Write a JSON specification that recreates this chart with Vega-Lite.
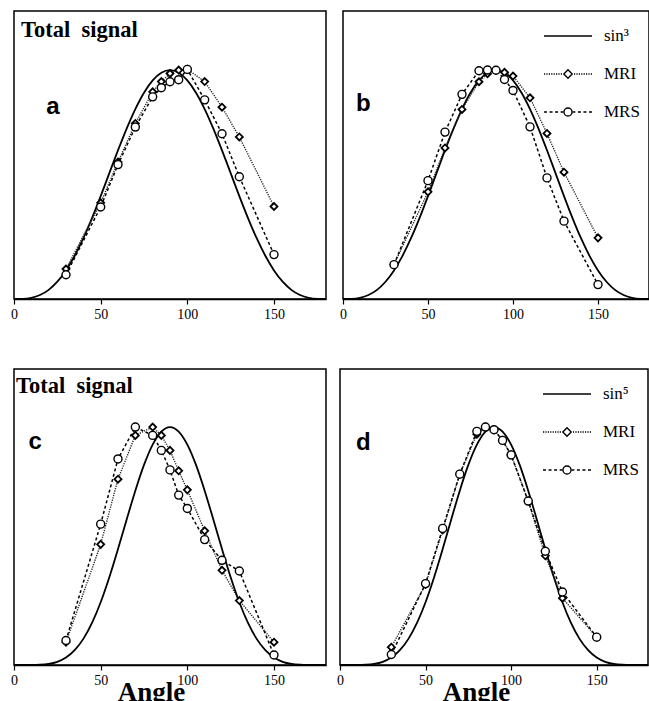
{
  "$schema": "https://vega.github.io/schema/vega-lite/v6.json",
  "padding": {"left": 9, "top": 10, "right": 0, "bottom": 0},
  "background": "white",
  "config": {
    "view": {"stroke": "black", "strokeWidth": 1.5},
    "axis": {"labelFont": "Liberation Serif", "labelFontSize": 14, "labelColor": "black", "tickColor": "black", "domainColor": "black", "tickSize": 5, "tickWidth": 1.2, "domainWidth": 1.5, "grid": false, "labelPadding": 3, "labelFlush": false, "titleColor": "black"},
    "legend": {"labelFont": "Liberation Serif", "labelFontSize": 17, "labelColor": "black"},
    "text": {"font": "Liberation Sans", "fontWeight": "bold", "fontSize": 24, "color": "black", "align": "left", "baseline": "alphabetic"}
  },
  "datasets": {
    "one": [{}],
    "curve": [
      {"p":3,"angle":0,"signal":0},{"p":3,"angle":5,"signal":0.00066},{"p":3,"angle":10,"signal":0.00524},{"p":3,"angle":15,"signal":0.01734},{"p":3,"angle":20,"signal":0.04001},{"p":3,"angle":25,"signal":0.07548},{"p":3,"angle":30,"signal":0.125},{"p":3,"angle":35,"signal":0.1887},{"p":3,"angle":40,"signal":0.26559},{"p":3,"angle":45,"signal":0.35355},{"p":3,"angle":50,"signal":0.44953},{"p":3,"angle":55,"signal":0.54966},{"p":3,"angle":60,"signal":0.64952},{"p":3,"angle":65,"signal":0.74444},{"p":3,"angle":70,"signal":0.82976},{"p":3,"angle":75,"signal":0.90123},{"p":3,"angle":80,"signal":0.95512},{"p":3,"angle":85,"signal":0.98861},{"p":3,"angle":90,"signal":1},{"p":3,"angle":95,"signal":0.98861},{"p":3,"angle":100,"signal":0.95512},{"p":3,"angle":105,"signal":0.90123},{"p":3,"angle":110,"signal":0.82976},{"p":3,"angle":115,"signal":0.74444},{"p":3,"angle":120,"signal":0.64952},{"p":3,"angle":125,"signal":0.54966},{"p":3,"angle":130,"signal":0.44953},{"p":3,"angle":135,"signal":0.35355},{"p":3,"angle":140,"signal":0.26559},{"p":3,"angle":145,"signal":0.1887},{"p":3,"angle":150,"signal":0.125},{"p":3,"angle":155,"signal":0.07548},{"p":3,"angle":160,"signal":0.04001},{"p":3,"angle":165,"signal":0.01734},{"p":3,"angle":170,"signal":0.00524},{"p":3,"angle":175,"signal":0.00066},{"p":3,"angle":180,"signal":0},
      {"p":5,"angle":0,"signal":0},{"p":5,"angle":5,"signal":0.00001},{"p":5,"angle":10,"signal":0.00016},{"p":5,"angle":15,"signal":0.00116},{"p":5,"angle":20,"signal":0.00468},{"p":5,"angle":25,"signal":0.01348},{"p":5,"angle":30,"signal":0.03125},{"p":5,"angle":35,"signal":0.06208},{"p":5,"angle":40,"signal":0.10974},{"p":5,"angle":45,"signal":0.17678},{"p":5,"angle":50,"signal":0.26379},{"p":5,"angle":55,"signal":0.36882},{"p":5,"angle":60,"signal":0.48714},{"p":5,"angle":65,"signal":0.61148},{"p":5,"angle":70,"signal":0.73269},{"p":5,"angle":75,"signal":0.84087},{"p":5,"angle":80,"signal":0.92632},{"p":5,"angle":85,"signal":0.9811},{"p":5,"angle":90,"signal":1},{"p":5,"angle":95,"signal":0.9811},{"p":5,"angle":100,"signal":0.92632},{"p":5,"angle":105,"signal":0.84087},{"p":5,"angle":110,"signal":0.73269},{"p":5,"angle":115,"signal":0.61148},{"p":5,"angle":120,"signal":0.48714},{"p":5,"angle":125,"signal":0.36882},{"p":5,"angle":130,"signal":0.26379},{"p":5,"angle":135,"signal":0.17678},{"p":5,"angle":140,"signal":0.10974},{"p":5,"angle":145,"signal":0.06208},{"p":5,"angle":150,"signal":0.03125},{"p":5,"angle":155,"signal":0.01348},{"p":5,"angle":160,"signal":0.00468},{"p":5,"angle":165,"signal":0.00116},{"p":5,"angle":170,"signal":0.00016},{"p":5,"angle":175,"signal":0.00001},{"p":5,"angle":180,"signal":0}
    ],
    "pts": [
      {"panel":"a","series":"MRI","angle":30,"signal":0.131},{"panel":"a","series":"MRI","angle":50,"signal":0.42},{"panel":"a","series":"MRI","angle":60,"signal":0.598},{"panel":"a","series":"MRI","angle":70,"signal":0.767},{"panel":"a","series":"MRI","angle":80,"signal":0.905},{"panel":"a","series":"MRI","angle":85,"signal":0.95},{"panel":"a","series":"MRI","angle":90,"signal":0.985},{"panel":"a","series":"MRI","angle":95,"signal":1.0},{"panel":"a","series":"MRI","angle":100,"signal":1.003},{"panel":"a","series":"MRI","angle":110,"signal":0.95},{"panel":"a","series":"MRI","angle":120,"signal":0.838},{"panel":"a","series":"MRI","angle":130,"signal":0.708},{"panel":"a","series":"MRI","angle":150,"signal":0.404},
      {"panel":"a","series":"MRS","angle":30,"signal":0.106},{"panel":"a","series":"MRS","angle":50,"signal":0.402},{"panel":"a","series":"MRS","angle":60,"signal":0.587},{"panel":"a","series":"MRS","angle":70,"signal":0.751},{"panel":"a","series":"MRS","angle":80,"signal":0.883},{"panel":"a","series":"MRS","angle":85,"signal":0.923},{"panel":"a","series":"MRS","angle":90,"signal":0.949},{"panel":"a","series":"MRS","angle":95,"signal":0.958},{"panel":"a","series":"MRS","angle":100,"signal":1.003},{"panel":"a","series":"MRS","angle":110,"signal":0.87},{"panel":"a","series":"MRS","angle":120,"signal":0.722},{"panel":"a","series":"MRS","angle":130,"signal":0.534},{"panel":"a","series":"MRS","angle":150,"signal":0.194},
      {"panel":"b","series":"MRI","angle":30,"signal":0.15},{"panel":"b","series":"MRI","angle":50,"signal":0.468},{"panel":"b","series":"MRI","angle":60,"signal":0.66},{"panel":"b","series":"MRI","angle":70,"signal":0.828},{"panel":"b","series":"MRI","angle":80,"signal":0.949},{"panel":"b","series":"MRI","angle":85,"signal":0.984},{"panel":"b","series":"MRI","angle":90,"signal":0.999},{"panel":"b","series":"MRI","angle":95,"signal":0.99},{"panel":"b","series":"MRI","angle":100,"signal":0.974},{"panel":"b","series":"MRI","angle":110,"signal":0.879},{"panel":"b","series":"MRI","angle":120,"signal":0.723},{"panel":"b","series":"MRI","angle":130,"signal":0.554},{"panel":"b","series":"MRI","angle":150,"signal":0.267},
      {"panel":"b","series":"MRS","angle":30,"signal":0.15},{"panel":"b","series":"MRS","angle":50,"signal":0.517},{"panel":"b","series":"MRS","angle":60,"signal":0.729},{"panel":"b","series":"MRS","angle":70,"signal":0.894},{"panel":"b","series":"MRS","angle":80,"signal":0.997},{"panel":"b","series":"MRS","angle":85,"signal":1.0},{"panel":"b","series":"MRS","angle":90,"signal":0.999},{"panel":"b","series":"MRS","angle":95,"signal":0.959},{"panel":"b","series":"MRS","angle":100,"signal":0.911},{"panel":"b","series":"MRS","angle":110,"signal":0.752},{"panel":"b","series":"MRS","angle":120,"signal":0.529},{"panel":"b","series":"MRS","angle":130,"signal":0.34},{"panel":"b","series":"MRS","angle":150,"signal":0.063},
      {"panel":"c","series":"MRI","angle":30,"signal":0.096},{"panel":"c","series":"MRI","angle":50,"signal":0.507},{"panel":"c","series":"MRI","angle":60,"signal":0.781},{"panel":"c","series":"MRI","angle":70,"signal":0.965},{"panel":"c","series":"MRI","angle":80,"signal":1.0},{"panel":"c","series":"MRI","angle":85,"signal":0.965},{"panel":"c","series":"MRI","angle":90,"signal":0.902},{"panel":"c","series":"MRI","angle":95,"signal":0.816},{"panel":"c","series":"MRI","angle":100,"signal":0.736},{"panel":"c","series":"MRI","angle":110,"signal":0.564},{"panel":"c","series":"MRI","angle":120,"signal":0.398},{"panel":"c","series":"MRI","angle":130,"signal":0.271},{"panel":"c","series":"MRI","angle":150,"signal":0.096},
      {"panel":"c","series":"MRS","angle":30,"signal":0.103},{"panel":"c","series":"MRS","angle":50,"signal":0.592},{"panel":"c","series":"MRS","angle":60,"signal":0.866},{"panel":"c","series":"MRS","angle":70,"signal":1.0},{"panel":"c","series":"MRS","angle":80,"signal":0.965},{"panel":"c","series":"MRS","angle":85,"signal":0.902},{"panel":"c","series":"MRS","angle":90,"signal":0.82},{"panel":"c","series":"MRS","angle":95,"signal":0.714},{"panel":"c","series":"MRS","angle":100,"signal":0.658},{"panel":"c","series":"MRS","angle":110,"signal":0.527},{"panel":"c","series":"MRS","angle":120,"signal":0.44},{"panel":"c","series":"MRS","angle":130,"signal":0.395},{"panel":"c","series":"MRS","angle":150,"signal":0.042},
      {"panel":"d","series":"MRI","angle":30,"signal":0.075},{"panel":"d","series":"MRI","angle":50,"signal":0.338},{"panel":"d","series":"MRI","angle":60,"signal":0.567},{"panel":"d","series":"MRI","angle":70,"signal":0.802},{"panel":"d","series":"MRI","angle":80,"signal":0.97},{"panel":"d","series":"MRI","angle":85,"signal":1.0},{"panel":"d","series":"MRI","angle":90,"signal":0.989},{"panel":"d","series":"MRI","angle":95,"signal":0.944},{"panel":"d","series":"MRI","angle":100,"signal":0.883},{"panel":"d","series":"MRI","angle":110,"signal":0.689},{"panel":"d","series":"MRI","angle":120,"signal":0.459},{"panel":"d","series":"MRI","angle":130,"signal":0.281},{"panel":"d","series":"MRI","angle":150,"signal":0.117},
      {"panel":"d","series":"MRS","angle":30,"signal":0.044},{"panel":"d","series":"MRS","angle":50,"signal":0.342},{"panel":"d","series":"MRS","angle":60,"signal":0.574},{"panel":"d","series":"MRS","angle":70,"signal":0.802},{"panel":"d","series":"MRS","angle":80,"signal":0.982},{"panel":"d","series":"MRS","angle":85,"signal":1.0},{"panel":"d","series":"MRS","angle":90,"signal":0.989},{"panel":"d","series":"MRS","angle":95,"signal":0.944},{"panel":"d","series":"MRS","angle":100,"signal":0.883},{"panel":"d","series":"MRS","angle":110,"signal":0.689},{"panel":"d","series":"MRS","angle":120,"signal":0.478},{"panel":"d","series":"MRS","angle":130,"signal":0.307},{"panel":"d","series":"MRS","angle":150,"signal":0.117}
    ]
  },
  "resolve": {"scale": {"shape": "independent"}, "legend": {"shape": "independent"}},
  "spacing": 46,
  "vconcat": [
    {
      "spacing": 7,
      "resolve": {"scale": {"shape": "independent"}, "legend": {"shape": "independent"}},
      "hconcat": [
        {
          "width": 312, "height": 288,
          "title": {"text": "Total\u00a0\u00a0signal", "anchor": "start", "frame": "group", "font": "Liberation Serif", "fontWeight": "bold", "fontSize": 22.5, "color": "black", "offset": -30, "dx": 7},
          "layer": [
            {"data": {"name": "curve"}, "transform": [{"filter": "datum.p == 3"}], "mark": {"type": "line", "color": "black", "strokeWidth": 1.8, "interpolate": "monotone"},
             "encoding": {"x": {"field": "angle", "type": "quantitative", "scale": {"domain": [0, 180], "nice": false}, "axis": {"values": [0, 50, 100, 150], "title": null}}, "y": {"field": "signal", "type": "quantitative", "scale": {"domain": [0, 1.258], "nice": false}, "axis": null}}},
            {"data": {"name": "pts"}, "transform": [{"filter": "datum.panel == 'a' && datum.series == 'MRI'"}], "mark": {"type": "line", "color": "#222", "strokeWidth": 1.4, "strokeDash": [1.2, 1.2]}, "encoding": {"x": {"field": "angle", "type": "quantitative"}, "y": {"field": "signal", "type": "quantitative"}}},
            {"data": {"name": "pts"}, "transform": [{"filter": "datum.panel == 'a' && datum.series == 'MRS'"}], "mark": {"type": "line", "color": "black", "strokeWidth": 1.5, "strokeDash": [3, 2.5]}, "encoding": {"x": {"field": "angle", "type": "quantitative"}, "y": {"field": "signal", "type": "quantitative"}}},
            {"data": {"name": "pts"}, "transform": [{"filter": "datum.panel == 'a' && datum.series == 'MRI'"}], "mark": {"type": "point", "shape": "diamond", "size": 49, "filled": true, "fill": "white", "stroke": "black", "strokeWidth": 1.8, "opacity": 1}, "encoding": {"x": {"field": "angle", "type": "quantitative"}, "y": {"field": "signal", "type": "quantitative"}}},
            {"data": {"name": "pts"}, "transform": [{"filter": "datum.panel == 'a' && datum.series == 'MRS'"}], "mark": {"type": "point", "shape": "circle", "size": 64, "filled": true, "fill": "white", "stroke": "black", "strokeWidth": 1.4, "opacity": 1}, "encoding": {"x": {"field": "angle", "type": "quantitative"}, "y": {"field": "signal", "type": "quantitative"}}},
            {"data": {"name": "one"}, "mark": {"type": "text"}, "encoding": {"x": {"datum": 18.6}, "y": {"datum": 0.808}, "text": {"value": "a"}}}
          ]
        },
        {
          "width": 306, "height": 288,
          "layer": [
            {"data": {"name": "curve"}, "transform": [{"filter": "datum.p == 3"}], "mark": {"type": "line", "color": "black", "strokeWidth": 1.8, "interpolate": "monotone"},
             "encoding": {"x": {"field": "angle", "type": "quantitative", "scale": {"domain": [0, 180], "nice": false}, "axis": {"values": [0, 50, 100, 150], "title": null}}, "y": {"field": "signal", "type": "quantitative", "scale": {"domain": [0, 1.258], "nice": false}, "axis": null}}},
            {"data": {"name": "pts"}, "transform": [{"filter": "datum.panel == 'b' && datum.series == 'MRI'"}], "mark": {"type": "line", "color": "#222", "strokeWidth": 1.4, "strokeDash": [1.2, 1.2]}, "encoding": {"x": {"field": "angle", "type": "quantitative"}, "y": {"field": "signal", "type": "quantitative"}}},
            {"data": {"name": "pts"}, "transform": [{"filter": "datum.panel == 'b' && datum.series == 'MRS'"}], "mark": {"type": "line", "color": "black", "strokeWidth": 1.5, "strokeDash": [3, 2.5]}, "encoding": {"x": {"field": "angle", "type": "quantitative"}, "y": {"field": "signal", "type": "quantitative"}}},
            {"data": {"name": "pts"}, "transform": [{"filter": "datum.panel == 'b' && datum.series == 'MRI'"}], "mark": {"type": "point", "shape": "diamond", "size": 49, "filled": true, "fill": "white", "stroke": "black", "strokeWidth": 1.8, "opacity": 1}, "encoding": {"x": {"field": "angle", "type": "quantitative"}, "y": {"field": "signal", "type": "quantitative"}}},
            {"data": {"name": "pts"}, "transform": [{"filter": "datum.panel == 'b' && datum.series == 'MRS'"}], "mark": {"type": "point", "shape": "circle", "size": 64, "filled": true, "fill": "white", "stroke": "black", "strokeWidth": 1.4, "opacity": 1}, "encoding": {"x": {"field": "angle", "type": "quantitative"}, "y": {"field": "signal", "type": "quantitative"}}},
            {"data": {"name": "one"}, "mark": {"type": "text"}, "encoding": {"x": {"datum": 7.6}, "y": {"datum": 0.821}, "text": {"value": "b"}}},
            {"data": {"name": "pts"}, "transform": [{"filter": "datum.panel == 'b'"}], "mark": {"type": "point", "opacity": 0, "color": "black", "filled": false, "size": 900},
             "encoding": {"x": {"field": "angle", "type": "quantitative"}, "y": {"field": "signal", "type": "quantitative"},
              "shape": {"field": "series", "type": "nominal", "scale": {"domain": ["sin³", "MRI", "MRS"], "range": ["M-1.6,0L1.6,0", "M-1.6,0h0.08M-1.44,0h0.08M-1.28,0h0.08M-1.12,0h0.08M-0.96,0h0.08M-0.8,0h0.08M-0.64,0h0.08M-0.48,0h0.08M0,-0.28L0.28,0L0,0.28L-0.28,0ZM0.4,0h0.08M0.56,0h0.08M0.72,0h0.08M0.88,0h0.08M1.04,0h0.08M1.2,0h0.08M1.36,0h0.08M1.52,0h0.08", "M-1.6,0h0.2M-1.23,0h0.2M-0.86,0h0.2M-0.49,0h0.17M-0.27,0A0.27,0.27,0,1,0,0.27,0A0.27,0.27,0,1,0,-0.27,0M0.32,0h0.17M0.66,0h0.2M1.03,0h0.2M1.4,0h0.2"]},
              "legend": {"title": null, "orient": "top-right", "offset": 9, "padding": 0, "symbolSize": 900, "symbolStrokeWidth": 1.4, "symbolStrokeColor": "black", "symbolFillColor": "white", "symbolOpacity": 1, "labelOffset": 20, "rowPadding": 14}}}}
          ]
        }
      ]
    },
    {
      "spacing": 4,
      "resolve": {"scale": {"shape": "independent"}, "legend": {"shape": "independent"}},
      "hconcat": [
        {
          "width": 312, "height": 296,
          "title": {"text": "Total\u00a0\u00a0signal", "anchor": "start", "frame": "group", "font": "Liberation Serif", "fontWeight": "bold", "fontSize": 22.5, "color": "black", "offset": -28, "dx": 2},
          "layer": [
            {"data": {"name": "curve"}, "transform": [{"filter": "datum.p == 5"}], "mark": {"type": "line", "color": "black", "strokeWidth": 1.8, "interpolate": "monotone"},
             "encoding": {"x": {"field": "angle", "type": "quantitative", "scale": {"domain": [0, 180], "nice": false}, "axis": {"values": [0, 50, 100, 150], "title": "Angle", "titleFont": "Liberation Serif", "titleFontWeight": "bold", "titleFontSize": 27, "titleX": 137, "titleY": 35, "titleBaseline": "alphabetic", "titleAlign": "center"}}, "y": {"field": "signal", "type": "quantitative", "scale": {"domain": [0, 1.244], "nice": false}, "axis": null}}},
            {"data": {"name": "pts"}, "transform": [{"filter": "datum.panel == 'c' && datum.series == 'MRI'"}], "mark": {"type": "line", "color": "#222", "strokeWidth": 1.4, "strokeDash": [1.2, 1.2]}, "encoding": {"x": {"field": "angle", "type": "quantitative"}, "y": {"field": "signal", "type": "quantitative"}}},
            {"data": {"name": "pts"}, "transform": [{"filter": "datum.panel == 'c' && datum.series == 'MRS'"}], "mark": {"type": "line", "color": "black", "strokeWidth": 1.5, "strokeDash": [3, 2.5]}, "encoding": {"x": {"field": "angle", "type": "quantitative"}, "y": {"field": "signal", "type": "quantitative"}}},
            {"data": {"name": "pts"}, "transform": [{"filter": "datum.panel == 'c' && datum.series == 'MRI'"}], "mark": {"type": "point", "shape": "diamond", "size": 49, "filled": true, "fill": "white", "stroke": "black", "strokeWidth": 1.8, "opacity": 1}, "encoding": {"x": {"field": "angle", "type": "quantitative"}, "y": {"field": "signal", "type": "quantitative"}}},
            {"data": {"name": "pts"}, "transform": [{"filter": "datum.panel == 'c' && datum.series == 'MRS'"}], "mark": {"type": "point", "shape": "circle", "size": 64, "filled": true, "fill": "white", "stroke": "black", "strokeWidth": 1.4, "opacity": 1}, "encoding": {"x": {"field": "angle", "type": "quantitative"}, "y": {"field": "signal", "type": "quantitative"}}},
            {"data": {"name": "one"}, "mark": {"type": "text"}, "encoding": {"x": {"datum": 8.3}, "y": {"datum": 0.908}, "text": {"value": "c"}}}
          ]
        },
        {
          "width": 308, "height": 296,
          "layer": [
            {"data": {"name": "curve"}, "transform": [{"filter": "datum.p == 5"}], "mark": {"type": "line", "color": "black", "strokeWidth": 1.8, "interpolate": "monotone"},
             "encoding": {"x": {"field": "angle", "type": "quantitative", "scale": {"domain": [0, 180], "nice": false}, "axis": {"values": [0, 50, 100, 150], "title": "Angle", "titleFont": "Liberation Serif", "titleFontWeight": "bold", "titleFontSize": 27, "titleX": 136, "titleY": 35, "titleBaseline": "alphabetic", "titleAlign": "center"}}, "y": {"field": "signal", "type": "quantitative", "scale": {"domain": [0, 1.244], "nice": false}, "axis": null}}},
            {"data": {"name": "pts"}, "transform": [{"filter": "datum.panel == 'd' && datum.series == 'MRI'"}], "mark": {"type": "line", "color": "#222", "strokeWidth": 1.4, "strokeDash": [1.2, 1.2]}, "encoding": {"x": {"field": "angle", "type": "quantitative"}, "y": {"field": "signal", "type": "quantitative"}}},
            {"data": {"name": "pts"}, "transform": [{"filter": "datum.panel == 'd' && datum.series == 'MRS'"}], "mark": {"type": "line", "color": "black", "strokeWidth": 1.5, "strokeDash": [3, 2.5]}, "encoding": {"x": {"field": "angle", "type": "quantitative"}, "y": {"field": "signal", "type": "quantitative"}}},
            {"data": {"name": "pts"}, "transform": [{"filter": "datum.panel == 'd' && datum.series == 'MRI'"}], "mark": {"type": "point", "shape": "diamond", "size": 49, "filled": true, "fill": "white", "stroke": "black", "strokeWidth": 1.8, "opacity": 1}, "encoding": {"x": {"field": "angle", "type": "quantitative"}, "y": {"field": "signal", "type": "quantitative"}}},
            {"data": {"name": "pts"}, "transform": [{"filter": "datum.panel == 'd' && datum.series == 'MRS'"}], "mark": {"type": "point", "shape": "circle", "size": 64, "filled": true, "fill": "white", "stroke": "black", "strokeWidth": 1.4, "opacity": 1}, "encoding": {"x": {"field": "angle", "type": "quantitative"}, "y": {"field": "signal", "type": "quantitative"}}},
            {"data": {"name": "one"}, "mark": {"type": "text"}, "encoding": {"x": {"datum": 9.35}, "y": {"datum": 0.903}, "text": {"value": "d"}}},
            {"data": {"name": "pts"}, "transform": [{"filter": "datum.panel == 'd'"}], "mark": {"type": "point", "opacity": 0, "color": "black", "filled": false, "size": 900},
             "encoding": {"x": {"field": "angle", "type": "quantitative"}, "y": {"field": "signal", "type": "quantitative"},
              "shape": {"field": "series", "type": "nominal", "scale": {"domain": ["sin⁵", "MRI", "MRS"], "range": ["M-1.6,0L1.6,0", "M-1.6,0h0.08M-1.44,0h0.08M-1.28,0h0.08M-1.12,0h0.08M-0.96,0h0.08M-0.8,0h0.08M-0.64,0h0.08M-0.48,0h0.08M0,-0.28L0.28,0L0,0.28L-0.28,0ZM0.4,0h0.08M0.56,0h0.08M0.72,0h0.08M0.88,0h0.08M1.04,0h0.08M1.2,0h0.08M1.36,0h0.08M1.52,0h0.08", "M-1.6,0h0.2M-1.23,0h0.2M-0.86,0h0.2M-0.49,0h0.17M-0.27,0A0.27,0.27,0,1,0,0.27,0A0.27,0.27,0,1,0,-0.27,0M0.32,0h0.17M0.66,0h0.2M1.03,0h0.2M1.4,0h0.2"]},
              "legend": {"title": null, "orient": "top-right", "offset": 9, "padding": 0, "symbolSize": 900, "symbolStrokeWidth": 1.4, "symbolStrokeColor": "black", "symbolFillColor": "white", "symbolOpacity": 1, "labelOffset": 20, "rowPadding": 14}}}}
          ]
        }
      ]
    }
  ]
}
